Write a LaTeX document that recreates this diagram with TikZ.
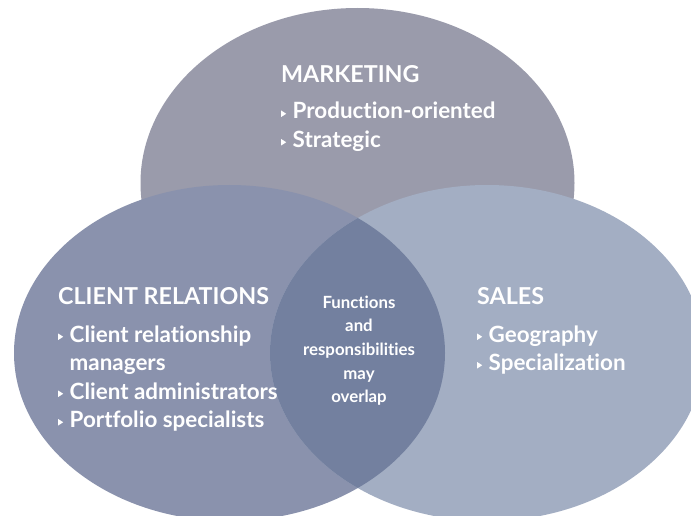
\documentclass[tikz,border=0pt]{standalone}
\usepackage{fontspec}
\setmainfont[Ligatures=NoCommon]{Lato}
\usetikzlibrary{positioning}

\definecolor{mktfill}{RGB}{154,155,171}
\definecolor{clifill}{RGB}{138,146,173}
\definecolor{salfill}{RGB}{163,174,195}
\definecolor{lensfill}{RGB}{115,128,159}

% small white triangle in front of each item
\newcommand{\bul}{\tikz[baseline=-2pt]\fill[white] (0pt,0pt) -- (0pt,6.5pt) -- (5pt,3.25pt) -- cycle;}

\tikzset{
  head/.style={text=white, inner sep=0pt, font=\bfseries\fontsize{23.3}{26}\selectfont},
  items/.style={text=white, inner sep=0pt, font=\bfseries\fontsize{22.4}{28.5}\selectfont},
  note/.style={text=white, inner sep=0pt, font=\bfseries\fontsize{16.8}{23.7}\selectfont}
}

\begin{document}
\begin{tikzpicture}[x=1pt, y=-1pt]
\useasboundingbox (0,0) rectangle (691,516);
\fill[white] (0,0) rectangle (691,516);
\clip (0,0) rectangle (691,516);

% the three circles
\fill[mktfill] (357.5,183) ellipse [x radius=217pt, y radius=175pt];
\fill[clifill] (229.5,353) ellipse [x radius=215.5pt, y radius=168pt];
\fill[salfill] (487,353) ellipse [x radius=217pt, y radius=168pt];
\begin{scope}
  \clip (229.5,353) ellipse [x radius=215.5pt, y radius=168pt];
  \fill[lensfill] (487,353) ellipse [x radius=217pt, y radius=168pt];
\end{scope}

% marketing
\node[head, anchor=base west] (mkt) at (281,83) {MARKETING};
\node[items, below=36pt of mkt.base west, anchor=base west] (mktlist)
  {\begin{tabular}[t]{@{}l@{\hspace{6.5pt}}l@{}}
   \bul & Production-oriented\\
   \bul & Strategic
   \end{tabular}};

% client relations
\node[head, anchor=base west] (cli) at (58,304) {CLIENT RELATIONS};
\node[items, below=38pt of cli.base west, anchor=base west] (clilist)
  {\begin{tabular}[t]{@{}l@{\hspace{6.5pt}}l@{}}
   \bul & Client relationship\\
        & managers\\
   \bul & Client administrators\\
   \bul & Portfolio specialists
   \end{tabular}};

% sales
\node[head, anchor=base west] (sal) at (477,304) {SALES};
\node[items, below=38pt of sal.base west, anchor=base west] (sallist)
  {\begin{tabular}[t]{@{}l@{\hspace{6.5pt}}l@{}}
   \bul & Geography\\
   \bul & Specialization
   \end{tabular}};

% overlap
\node[note, anchor=base] (lens) at (359,308)
  {\begin{tabular}[t]{@{}c@{}}
   Functions\\ and\\ responsibilities\\ may\\ overlap
   \end{tabular}};
\end{tikzpicture}
\end{document}
